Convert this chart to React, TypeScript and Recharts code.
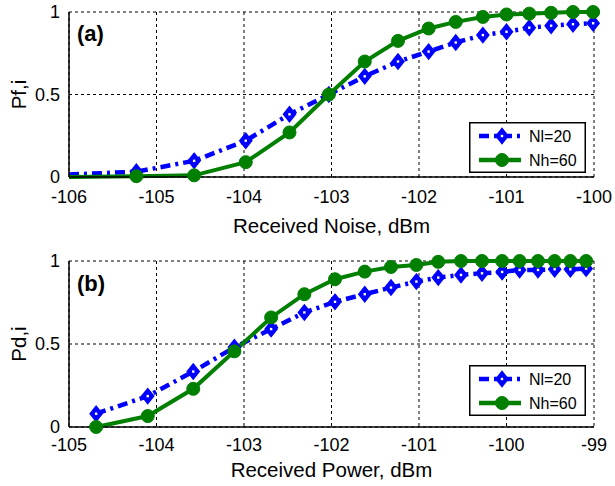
import React from "react";
import { LineChart, Line, XAxis, YAxis, CartesianGrid, Legend, Label } from "recharts";

// (a) false-alarm probability vs received noise
const noiseDbm = [-106, -105.23, -104.57, -103.98, -103.48, -103.03, -102.62, -102.24, -101.89, -101.58, -101.27, -101.0, -100.74, -100.49, -100.24, -100.01];
const pfNl20 = [0.015, 0.032, 0.098, 0.22, 0.38, 0.5, 0.61, 0.7, 0.76, 0.815, 0.86, 0.88, 0.905, 0.917, 0.926, 0.932];
const pfNh60 = [0, 0.005, 0.01, 0.09, 0.27, 0.5, 0.7, 0.825, 0.9, 0.94, 0.97, 0.985, 0.99, 0.995, 1, 1];
const noiseTicks = [-106, -105, -104, -103, -102, -101, -100];

// (b) detection probability vs received power
const powerDbm = [-104.69, -104.1, -103.58, -103.11, -102.69, -102.31, -101.96, -101.62, -101.32, -101.03, -100.78, -100.52, -100.28, -100.05, -99.85, -99.64, -99.45, -99.27, -99.09];
const pdNl20 = [0.08, 0.186, 0.334, 0.48, 0.59, 0.69, 0.754, 0.8, 0.84, 0.876, 0.9, 0.916, 0.926, 0.934, 0.946, 0.946, 0.95, 0.95, 0.954];
const pdNh60 = [0, 0.066, 0.23, 0.456, 0.66, 0.8, 0.89, 0.936, 0.964, 0.976, 0.995, 1, 1, 1, 1, 1, 1, 1, 1];
const powerTicks = [-105, -104, -103, -102, -101, -100, -99];

const probTicks = [0, 0.5, 1];

const FONT = "'Liberation Sans', Arial, Helvetica, sans-serif";
const BLUE = "#0000ff";
const GREEN = "#007f00";

const diamond = (cx: number, cy: number) => (
	<g>
		<polygon
			points={`${cx},${cy - 7.5} ${cx + 6},${cy} ${cx},${cy + 7.5} ${cx - 6},${cy}`}
			fill={BLUE}
			stroke={BLUE}
			strokeWidth={1.5}
			strokeDasharray="none"
		/>
		<rect x={cx - 1.2} y={cy - 1.2} width={2.4} height={2.4} fill="#fff" />
	</g>
);

const circle = (cx: number, cy: number) => (
	<circle cx={cx} cy={cy} r={6.5} fill={GREEN} stroke={GREEN} strokeWidth={1} />
);

const LegendBox = () => (
	<svg width={117} height={51} style={{ display: "block" }}>
		<rect x={0.75} y={0.75} width={115.5} height={49.5} fill="#fff" stroke="#000" strokeWidth={1.5} />
		<line x1={10} y1={14} x2={52} y2={14} stroke={BLUE} strokeWidth={4.5} strokeDasharray="10 5 3 5" />
		{diamond(33, 14)}
		<text x={60} y={14} dominantBaseline="central" fontSize={16} fontFamily={FONT}>Nl=20</text>
		<line x1={10} y1={38} x2={52} y2={38} stroke={GREEN} strokeWidth={4.5} />
		{circle(33, 38)}
		<text x={60} y={38} dominantBaseline="central" fontSize={16} fontFamily={FONT}>Nh=60</text>
	</svg>
);

type PanelProps = {
	tag: string;
	tagBaseline: number;
	xLabel: string;
	yLabel: string;
	xs: number[];
	nl: number[];
	nh: number[];
	ticks: number[];
	hideFirst: boolean;
	marginTop: number;
	axisHeight: number;
	labelDy: number;
	tickGap: number;
};

const Panel = ({ tag, tagBaseline, xLabel, yLabel, xs, nl, nh, ticks, hideFirst, marginTop, axisHeight, labelDy, tickGap }: PanelProps) => {
	const data = xs.map((x, i) => ({ x, nl: nl[i], nh: nh[i] }));
	const tickStyle = { fill: "#000", fontSize: 18, fontFamily: FONT };
	return (
		<div style={{ position: "relative", width: 615, height: 243 }}>
			<LineChart width={615} height={243} data={data} margin={{ top: marginTop, right: 21, bottom: 0, left: 0 }}>
				<CartesianGrid stroke="#000" strokeDasharray="3 3" strokeWidth={1} />
				<XAxis
					dataKey="x"
					type="number"
					domain={[ticks[0], ticks[ticks.length - 1]]}
					ticks={ticks}
					interval={0}
					height={axisHeight}
					tickLine={false}
					tickSize={0}
					tickMargin={tickGap}
					tick={tickStyle}
					axisLine={{ stroke: "#000", strokeWidth: 1.5 }}>
					<Label
						content={({ viewBox }: any) => (
							<text
								x={viewBox.x + viewBox.width / 2}
								y={viewBox.y + labelDy}
								textAnchor="middle"
								fontSize={20.5}
								fontFamily={FONT}>
								{xLabel}
							</text>
						)}
					/>
				</XAxis>
				<XAxis
					xAxisId="top"
					orientation="top"
					dataKey="x"
					type="number"
					domain={[ticks[0], ticks[ticks.length - 1]]}
					height={0}
					tick={false}
					tickLine={false}
					axisLine={{ stroke: "#000", strokeWidth: 1.5 }}
				/>
				<YAxis
					type="number"
					domain={[0, 1]}
					ticks={probTicks}
					width={69}
					tickLine={false}
					tickSize={0}
					tickMargin={9}
					tick={tickStyle}
					axisLine={{ stroke: "#000", strokeWidth: 1.5 }}>
					<Label
						content={({ viewBox }: any) => {
							const cy = viewBox.y + viewBox.height / 2;
							return (
								<text
									x={18}
									y={cy}
									transform={`rotate(-90, 18, ${cy})`}
									textAnchor="middle"
									dominantBaseline="central"
									fontSize={20.5}
									fontFamily={FONT}>
									{yLabel}
								</text>
							);
						}}
					/>
				</YAxis>
				<YAxis
					yAxisId="right"
					orientation="right"
					domain={[0, 1]}
					width={0}
					tick={false}
					tickLine={false}
					axisLine={{ stroke: "#000", strokeWidth: 1.5 }}
				/>
				<Legend
					layout="vertical"
					align="center"
					verticalAlign="middle"
					content={() => <LegendBox />}
					wrapperStyle={{ position: "absolute", left: 469, top: 122, width: 117, height: 51 }}
				/>
				<Line
					dataKey="nl"
					stroke={BLUE}
					strokeWidth={4.5}
					strokeDasharray="10 5 3 5"
					isAnimationActive={false}
					dot={(p: any) => (
						<g key={`d${p.index}`}>{hideFirst && p.index === 0 ? null : diamond(p.cx, p.cy)}</g>
					)}
				/>
				<Line
					dataKey="nh"
					stroke={GREEN}
					strokeWidth={4}
					isAnimationActive={false}
					dot={(p: any) => (
						<g key={`c${p.index}`}>{hideFirst && p.index === 0 ? null : circle(p.cx, p.cy)}</g>
					)}
				/>
			</LineChart>
			<svg width={160} height={70} style={{ position: "absolute", left: 0, top: 0, pointerEvents: "none" }}>
				<text x={77} y={tagBaseline} fontSize={22} fontWeight="bold" fontFamily={FONT}>{tag}</text>
			</svg>
		</div>
	);
};

export default function App() {
	return (
		<div style={{ position: "absolute", left: 0, top: 0, width: 615, height: 486, background: "#fff" }}>
			<Panel
				tag="(a)"
				tagBaseline={40.5}
				xLabel="Received Noise, dBm"
				yLabel="Pf,i"
				xs={noiseDbm}
				nl={pfNl20}
				nh={pfNh60}
				ticks={noiseTicks}
				hideFirst={true}
				marginTop={12}
				axisHeight={66}
				labelDy={56}
				tickGap={13}
			/>
			<Panel
				tag="(b)"
				tagBaseline={47.5}
				xLabel="Received Power, dBm"
				yLabel="Pd,i"
				xs={powerDbm}
				nl={pdNl20}
				nh={pdNh60}
				ticks={powerTicks}
				hideFirst={false}
				marginTop={18}
				axisHeight={59}
				labelDy={50}
				tickGap={11}
			/>
		</div>
	);
}
